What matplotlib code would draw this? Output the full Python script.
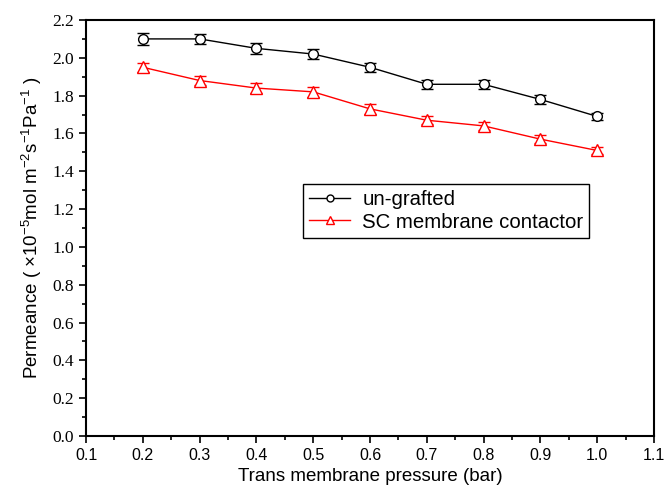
import matplotlib
matplotlib.use("Agg")
import matplotlib.pyplot as plt
from matplotlib.ticker import MultipleLocator
from matplotlib.lines import Line2D

plt.rcParams['mathtext.fontset'] = 'custom'
plt.rcParams['mathtext.rm'] = 'Liberation Sans'
plt.rcParams['mathtext.it'] = 'Liberation Sans:italic'
plt.rcParams['mathtext.default'] = 'regular'
plt.rcParams['axes.unicode_minus'] = False

pressure = [0.2, 0.3, 0.4, 0.5, 0.6, 0.7, 0.8, 0.9, 1.0]
ungrafted = [2.10, 2.10, 2.05, 2.02, 1.95, 1.86, 1.86, 1.78, 1.69]
ungrafted_err = [0.03, 0.025, 0.03, 0.025, 0.025, 0.025, 0.025, 0.025, 0.02]
sc = [1.95, 1.88, 1.84, 1.82, 1.73, 1.67, 1.64, 1.57, 1.51]
sc_err = [0.025, 0.025, 0.025, 0.025, 0.025, 0.02, 0.02, 0.02, 0.02]
xticks = [0.1, 0.2, 0.3, 0.4, 0.5, 0.6, 0.7, 0.8, 0.9, 1.0, 1.1]
yticks = [0.0, 0.2, 0.4, 0.6, 0.8, 1.0, 1.2, 1.4, 1.6, 1.8, 2.0, 2.2]

fig = plt.figure(figsize=(6.64, 4.95), dpi=100)
ax = fig.add_axes([86/664, 1-436/495, 568/664, 416/495])

ax.errorbar(pressure, ungrafted, yerr=ungrafted_err, color='black', lw=1,
            marker='o', ms=7, mfc='white', mec='black', mew=1, capsize=4,
            elinewidth=1)
ax.errorbar(pressure, sc, yerr=sc_err, color='red', lw=1,
            marker='^', ms=8, mfc='white', mec='red', mew=1, capsize=4,
            elinewidth=1)

ax.set_xlim(0.1, 1.1)
ax.set_ylim(0.0, 2.2)
ax.set_xticks(xticks, [f"{v:.1f}" for v in xticks],
              fontfamily=['Liberation Sans', 'DejaVu Sans'], fontsize=11.5)
ax.set_yticks(yticks, [f"{v:.1f}" for v in yticks],
              fontfamily=['Liberation Serif', 'DejaVu Serif'], fontsize=12.5)
ax.xaxis.set_minor_locator(MultipleLocator(0.05))
ax.yaxis.set_minor_locator(MultipleLocator(0.1))
ax.tick_params(which='both', direction='out', top=False, right=False, width=1.2)
ax.tick_params(which='major', length=5)
ax.tick_params(which='minor', length=3)
for s in ax.spines.values():
    s.set_linewidth(1.5)

ax.set_xlabel('Trans membrane pressure (bar)', family='Liberation Sans', fontsize=13.5, labelpad=4)
ax.set_ylabel('Permeance ( $\\times$10$^{-5}$mol m$^{-2}$s$^{-1}$Pa$^{-1}$ )',
              family='Liberation Sans', fontsize=13.5, labelpad=6)

handles = [
    Line2D([], [], color='black', lw=1, marker='o', ms=5, mfc='white', mec='black'),
    Line2D([], [], color='red', lw=1, marker='^', ms=6, mfc='white', mec='red'),
]
leg = ax.legend(handles, ['un-grafted', 'SC membrane contactor'],
                loc='upper left', bbox_to_anchor=(0.382, 0.605),
                prop={'family': 'Liberation Sans', 'size': 14.7},
                frameon=True, fancybox=False, edgecolor='black', framealpha=1,
                handlelength=2.0, borderpad=0.3, labelspacing=0.15, handletextpad=0.6,
                borderaxespad=0)
leg.get_frame().set_linewidth(1)

fig.savefig('out.png', dpi=100)
